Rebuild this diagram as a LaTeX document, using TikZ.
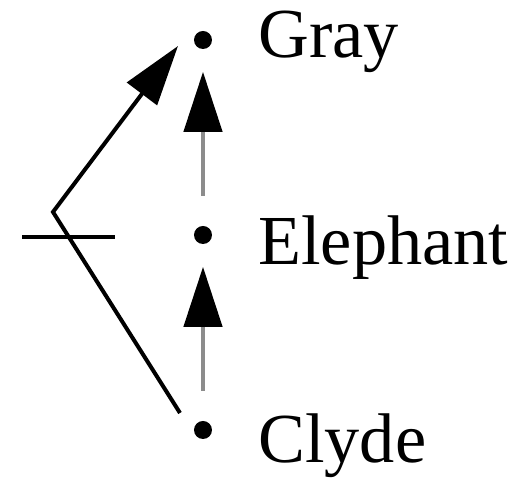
\documentclass[tikz,border=0pt]{standalone}
\usepackage{fontspec}
\setmainfont{Liberation Serif}
\usepackage{tikz}
\usetikzlibrary{positioning,arrows.meta}
\usepackage{xcolor}
\definecolor{shaft}{HTML}{8C8C8C}

\begin{document}
\begin{tikzpicture}[
  dot/.style={circle, fill=black, inner sep=0pt, minimum size=0.36cm},
  lbl/.style={inner sep=0pt, anchor=base west, font=\fontsize{40}{48}\selectfont},
  isa/.style={shaft, line width=0.09cm,
    -{Triangle[length=1.2cm, width=0.76cm, color=black, fill=black]},
    shorten <=0.6cm, shorten >=0.45cm},
  bigarr/.style={line width=0.08cm,
    -{Triangle[length=1.2cm, width=0.74cm]}}]
\useasboundingbox (0,0) rectangle (10.58,9.74);

% --- the three nodes ---
\node[dot] (gray) at (4.06,8.94) {};
\node[dot] (eleph) at (4.06,5.04) {};
\node[dot] (clyde) at (4.06,1.14) {};
\node[lbl] (grayl) at (5.16,8.58) {Gray};
\node[lbl] (elephl) at (5.16,4.44) {Elephant};
\node[lbl] (clydel) at (5.16,0.48) {Clyde};

% --- is-a chain ---
\draw[isa] (clyde) -- (eleph);
\draw[isa] (eleph) -- (gray);

% --- cancelled path ---
\coordinate (ctail) at (3.6,1.48);
\coordinate (bend) at (1.06,5.5);
\coordinate (gtip) at (3.56,8.82);
\draw[bigarr] (ctail) -- (bend) -- (gtip);
\coordinate (barl) at (0.44,5.0);
\coordinate (barr) at (2.3,5.0);
\draw[line width=0.09cm] (barl) -- (barr);

\end{tikzpicture}
\end{document}
